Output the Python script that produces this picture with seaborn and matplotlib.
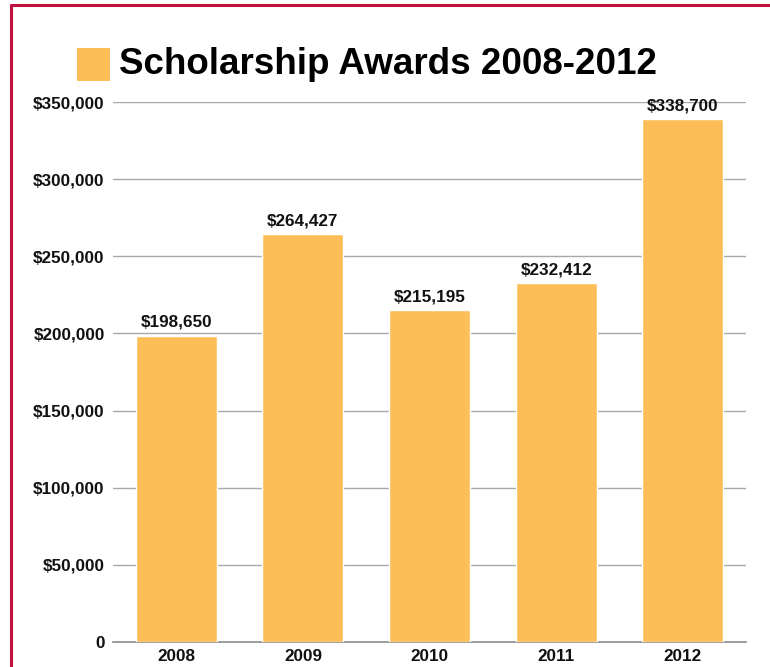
import matplotlib
matplotlib.use("Agg")
import matplotlib.pyplot as plt
from matplotlib.lines import Line2D
from matplotlib.patches import Rectangle
from matplotlib.ticker import FuncFormatter
import seaborn as sns
import pandas as pd

years = ["2008", "2009", "2010", "2011", "2012"]
awards = [198650, 264427, 215195, 232412, 338700]
title = "Scholarship Awards 2008-2012"

BAR = "#FDBE57"
FRAME = "#C0123C"

sns.set_theme(style="white")
plt.rcParams["font.family"] = ["Liberation Sans", "DejaVu Sans"]

df = pd.DataFrame({"year": years, "award": awards})

fig = plt.figure(figsize=(7.70, 6.67), dpi=100)
ax = fig.add_axes([0.1468, 0.0375, 0.822, 0.8095])

sns.barplot(data=df, x="year", y="award", color=BAR, saturation=1,
            width=0.64, ax=ax, zorder=3)

ax.set_xlim(-0.5, 4.5)
ax.set_ylim(0, 350000)
ax.set_yticks(range(0, 350001, 50000))
ax.yaxis.set_major_formatter(FuncFormatter(lambda v, p: "0" if v == 0 else f"${v:,.0f}"))
ax.grid(axis="y", color="#A8A8A8", linewidth=1.0, zorder=0)
ax.set_axisbelow(True)
for s in ["left", "right", "top"]:
    ax.spines[s].set_visible(False)
ax.spines["bottom"].set_color("#8C8C8C")
ax.spines["bottom"].set_linewidth(1.2)
ax.set_xlabel("")
ax.set_ylabel("")
ax.tick_params(axis="y", length=0, pad=6, labelsize=12.3)
ax.tick_params(axis="x", length=0, pad=5, labelsize=12.3)
for lab in ax.get_xticklabels() + ax.get_yticklabels():
    lab.set_fontweight("bold")
    lab.set_color("#111111")

for i, v in enumerate(awards):
    ax.annotate(f"${v:,.0f}", (i, v), xytext=(0, 4), textcoords="offset points",
                ha="center", va="bottom", fontsize=12.3, fontweight="bold",
                color="#111111")

# legend-style title with swatch
fig.patches.append(Rectangle((77 / 770, 1 - 81 / 667), 33 / 770, 33 / 667,
                             transform=fig.transFigure, facecolor=BAR,
                             edgecolor="none"))
fig.text(119 / 770, 1 - 65 / 667, title, ha="left", va="center",
         fontsize=26.5, fontweight="bold", color="#000000")

# frame lines
fig.add_artist(Line2D([11 / 770, 11 / 770], [0, 1 - 5 / 667],
                      transform=fig.transFigure, color=FRAME, linewidth=2.2))
fig.add_artist(Line2D([11 / 770, 1], [1 - 5 / 667, 1 - 5 / 667],
                      transform=fig.transFigure, color=FRAME, linewidth=2.2))

fig.savefig("out.png", dpi=100)
